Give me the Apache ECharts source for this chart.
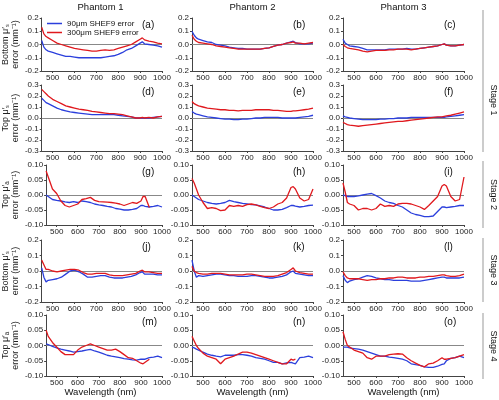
<!DOCTYPE html>
<html><head><meta charset="utf-8">
<script src="https://cdn.jsdelivr.net/npm/echarts@6/dist/echarts.min.js"></script>
<style>html,body{margin:0;padding:0;background:#fff}#c{width:499px;height:400px}</style>
</head><body><div id="c"></div>
<script>
// ---- data ----
const wavelength = [450,460,470,480,500,520,540,560,580,600,620,640,660,680,700,720,740,760,780,800,820,840,860,880,900,910,920,940,960,980,1000];
const xTicks = [500,600,700,800,900,1000];
const phantoms = ['Phantom 1','Phantom 2','Phantom 3'];
const stages = ['Stage 1','Stage 2','Stage 3','Stage 4'];
const panelLetters = ['(a)','(b)','(c)','(d)','(e)','(f)','(g)','(h)','(i)','(j)','(k)','(l)','(m)','(n)','(o)'];
const legendNames = ['90μm SHEF9 error','300μm SHEF9 error'];
const rowYLabels = ['Bottom μ′ₛ\nerror (mm⁻¹)','Top μ′ₛ\nerror (mm⁻¹)','Top μ′ₐ\nerror (mm⁻¹)','Bottom μ′ₛ\nerror (mm⁻¹)','Top μ′ₐ\nerror (mm⁻¹)'];
const rowYMin = [-0.2,-0.3,-0.1,-0.2,-0.1];
const rowYMax = [0.2,0.3,0.1,0.2,0.1];
const rowYStep = [0.1,0.1,0.05,0.1,0.05];
const rowYDec = [1,1,2,1,2];

// (a)
const blueA = [0.03,-0.02,-0.04,-0.05,-0.06,-0.07,-0.08,-0.09,-0.09,-0.095,-0.1,-0.1,-0.1,-0.1,-0.1,-0.1,-0.095,-0.09,-0.085,-0.075,-0.06,-0.04,-0.03,-0.01,0.01,0.02,0.005,0.0,-0.005,-0.01,-0.02];
const redA  = [0.13,0.08,0.06,0.05,0.03,0.01,0.0,-0.01,-0.02,-0.03,-0.035,-0.04,-0.045,-0.05,-0.05,-0.045,-0.04,-0.045,-0.04,-0.03,-0.02,-0.01,0.0,0.02,0.04,0.05,0.035,0.025,0.02,0.01,0.005];
// (b)
const blueB = [0.1,0.07,0.05,0.04,0.03,0.02,0.015,0.0,-0.005,-0.01,-0.02,-0.025,-0.03,-0.03,-0.035,-0.035,-0.035,-0.035,-0.03,-0.025,-0.015,-0.005,0.0,0.01,0.02,0.025,0.015,0.005,0.005,0.005,0.01];
const redB  = [0.07,0.04,0.025,0.015,0.01,0.005,0.0,-0.01,-0.015,-0.02,-0.025,-0.03,-0.035,-0.035,-0.035,-0.035,-0.035,-0.035,-0.03,-0.025,-0.015,-0.005,0.0,0.01,0.015,0.02,0.01,0.01,0.005,0.01,0.015];
// (c)
const blueC = [0.04,0.01,0.0,-0.01,-0.015,-0.02,-0.03,-0.04,-0.04,-0.04,-0.04,-0.04,-0.035,-0.035,-0.035,-0.035,-0.03,-0.035,-0.035,-0.03,-0.025,-0.02,-0.015,-0.01,0.0,0.005,-0.005,-0.01,-0.01,-0.005,0.0];
const redC  = [0.0,-0.015,-0.025,-0.03,-0.035,-0.04,-0.05,-0.055,-0.05,-0.045,-0.045,-0.045,-0.04,-0.04,-0.035,-0.035,-0.035,-0.04,-0.035,-0.03,-0.025,-0.02,-0.015,-0.01,0.0,0.005,-0.005,-0.01,-0.01,-0.005,0.0];
// (d)
const blueD = [0.18,0.16,0.14,0.13,0.11,0.09,0.075,0.065,0.055,0.05,0.045,0.04,0.035,0.03,0.03,0.03,0.03,0.03,0.03,0.025,0.02,0.015,0.01,0.0,0.0,0.0,0.0,0.0,0.005,0.01,0.015];
const redD  = [0.26,0.24,0.22,0.2,0.17,0.15,0.13,0.11,0.1,0.09,0.08,0.075,0.07,0.06,0.055,0.05,0.045,0.04,0.04,0.035,0.03,0.02,0.01,0.0,0.0,0.005,0.0,0.005,0.0,0.01,0.015];
// (e)
const blueE = [0.06,0.045,0.035,0.03,0.02,0.01,0.005,0.0,-0.005,-0.01,-0.01,-0.015,-0.015,-0.01,-0.01,-0.005,0.0,0.0,0.005,0.005,0.005,0.005,0.0,0.0,0.0,0.0,0.0,0.005,0.01,0.015,0.025];
const redE  = [0.15,0.13,0.12,0.11,0.1,0.09,0.085,0.08,0.075,0.075,0.07,0.07,0.065,0.07,0.07,0.07,0.075,0.075,0.075,0.075,0.07,0.07,0.065,0.06,0.06,0.065,0.065,0.07,0.075,0.08,0.09];
// (f)
const blueF = [0.02,0.01,0.005,0.0,-0.005,-0.01,-0.015,-0.015,-0.015,-0.015,-0.01,-0.01,-0.005,-0.005,0.0,0.0,0.0,0.005,0.005,0.005,0.005,0.005,0.005,0.005,0.005,0.005,0.01,0.015,0.02,0.025,0.03];
const redF  = [-0.04,-0.05,-0.06,-0.065,-0.07,-0.075,-0.07,-0.065,-0.06,-0.055,-0.05,-0.045,-0.04,-0.035,-0.03,-0.03,-0.025,-0.02,-0.015,-0.01,-0.005,0.0,0.005,0.01,0.01,0.015,0.02,0.025,0.035,0.045,0.055];
// (g)
const blueG = [0.0,-0.005,-0.01,-0.015,-0.018,-0.02,-0.023,-0.025,-0.022,-0.025,-0.02,-0.022,-0.025,-0.03,-0.033,-0.035,-0.038,-0.04,-0.045,-0.047,-0.05,-0.05,-0.048,-0.045,-0.035,-0.035,-0.038,-0.04,-0.038,-0.035,-0.04];
const redG  = [0.08,0.06,0.04,0.02,0.005,-0.02,-0.035,-0.04,-0.035,-0.03,-0.015,-0.012,-0.008,-0.018,-0.022,-0.023,-0.024,-0.025,-0.027,-0.03,-0.035,-0.03,-0.025,-0.028,-0.02,-0.005,-0.005,-0.042,null,null,null];
// (h)
const blueH = [0.0,-0.005,-0.01,-0.015,-0.02,-0.025,-0.028,-0.03,-0.028,-0.025,-0.018,-0.022,-0.025,-0.028,-0.03,-0.032,-0.033,-0.036,-0.04,-0.045,-0.05,-0.05,-0.048,-0.042,-0.035,-0.035,-0.037,-0.04,-0.038,-0.035,-0.034];
const redH  = [0.055,0.04,0.02,0.0,-0.025,-0.045,-0.042,-0.045,-0.052,-0.05,-0.035,-0.038,-0.035,-0.038,-0.032,-0.03,-0.033,-0.038,-0.042,-0.045,-0.04,-0.03,-0.025,-0.01,0.025,0.028,0.02,-0.01,-0.02,-0.015,0.02];
// (i)
const blueI = [0.0,-0.002,-0.005,-0.005,-0.005,-0.003,0.0,0.003,0.005,-0.002,-0.01,-0.02,-0.025,-0.028,-0.035,-0.04,-0.05,-0.06,-0.065,-0.068,-0.072,-0.072,-0.07,-0.055,-0.04,-0.04,-0.042,-0.04,-0.038,-0.035,-0.035];
const redI  = [0.04,0.01,-0.025,-0.03,-0.035,-0.05,-0.045,-0.045,-0.05,-0.045,-0.03,-0.038,-0.035,-0.038,-0.03,-0.028,-0.028,-0.03,-0.035,-0.04,-0.048,-0.035,-0.02,-0.005,0.03,0.035,0.03,-0.005,-0.02,-0.015,0.06];
// (j)
const blueJ = [0.02,-0.04,-0.07,-0.06,-0.055,-0.05,-0.04,-0.02,0.0,0.005,-0.005,-0.02,-0.04,-0.04,-0.035,-0.03,-0.03,-0.04,-0.045,-0.045,-0.045,-0.04,-0.035,-0.025,-0.01,-0.005,-0.02,-0.02,-0.02,-0.025,-0.025];
const redJ  = [0.07,0.04,0.01,0.01,0.0,-0.005,0.0,0.005,0.01,0.01,0.005,-0.01,-0.02,-0.02,-0.015,-0.015,-0.015,-0.025,-0.03,-0.03,-0.03,-0.025,-0.02,-0.015,0.0,0.005,-0.005,-0.005,-0.01,-0.015,-0.015];
// (k)
const blueK = [0.07,0.0,-0.04,-0.03,-0.035,-0.03,-0.025,-0.02,-0.02,-0.025,-0.03,-0.03,-0.035,-0.035,-0.035,-0.03,-0.03,-0.035,-0.04,-0.045,-0.045,-0.04,-0.035,-0.025,-0.005,0.0,-0.015,-0.02,-0.025,-0.03,-0.03];
const redK  = [0.03,0.0,-0.01,-0.015,-0.02,-0.02,-0.015,-0.015,-0.015,-0.02,-0.025,-0.025,-0.025,-0.025,-0.02,-0.02,-0.025,-0.03,-0.035,-0.035,-0.035,-0.03,-0.02,-0.01,0.01,0.02,0.0,-0.01,-0.015,-0.02,-0.02];
// (l)
const blueL = [-0.03,-0.06,-0.075,-0.065,-0.055,-0.05,-0.04,-0.03,-0.035,-0.045,-0.05,-0.055,-0.055,-0.06,-0.06,-0.06,-0.06,-0.065,-0.065,-0.065,-0.06,-0.055,-0.05,-0.045,-0.04,-0.04,-0.045,-0.045,-0.045,-0.045,-0.04];
const redL  = [-0.005,-0.03,-0.045,-0.05,-0.05,-0.05,-0.055,-0.06,-0.055,-0.055,-0.05,-0.05,-0.045,-0.045,-0.04,-0.04,-0.045,-0.045,-0.045,-0.04,-0.04,-0.035,-0.035,-0.03,-0.025,-0.025,-0.03,-0.035,-0.035,-0.03,-0.02];
// (m)
const blueM = [0.005,0.003,0.0,-0.003,-0.008,-0.012,-0.015,-0.018,-0.022,-0.02,-0.018,-0.015,-0.013,-0.018,-0.022,-0.027,-0.032,-0.035,-0.037,-0.04,-0.043,-0.045,-0.047,-0.048,-0.045,-0.045,-0.045,-0.04,-0.038,-0.035,-0.04];
const redM  = [0.05,0.03,0.02,0.01,-0.005,-0.02,-0.03,-0.03,-0.03,-0.015,-0.005,0.0,0.005,0.0,-0.005,-0.01,-0.015,-0.015,-0.012,-0.02,-0.03,-0.04,-0.042,-0.05,-0.058,-0.06,-0.055,-0.045,null,null,null];
// (n)
const blueN = [-0.005,-0.008,-0.012,-0.015,-0.022,-0.028,-0.032,-0.035,-0.037,-0.032,-0.032,-0.032,-0.03,-0.03,-0.032,-0.035,-0.04,-0.042,-0.045,-0.05,-0.055,-0.055,-0.06,-0.057,-0.055,-0.058,-0.06,-0.04,-0.038,-0.035,-0.04];
const redN  = [0.03,0.015,0.0,-0.01,-0.025,-0.035,-0.04,-0.045,-0.06,-0.045,-0.04,-0.035,-0.028,-0.022,-0.022,-0.025,-0.03,-0.035,-0.04,-0.045,-0.05,-0.055,-0.06,-0.06,-0.045,-0.048,-0.045,null,null,null,null];
// (o)
const blueO = [-0.005,-0.005,-0.005,-0.008,-0.01,-0.012,-0.015,-0.02,-0.025,-0.03,-0.035,-0.035,-0.038,-0.04,-0.042,-0.045,-0.05,-0.06,-0.063,-0.065,-0.07,-0.072,-0.072,-0.068,-0.062,-0.06,-0.05,-0.042,-0.04,-0.035,-0.04];
const redO  = [0.045,0.02,0.0,-0.005,-0.015,-0.02,-0.025,-0.04,-0.045,-0.035,-0.035,-0.035,-0.03,-0.028,-0.027,-0.028,-0.04,-0.05,-0.058,-0.065,-0.07,-0.06,-0.058,-0.05,-0.04,-0.045,-0.045,-0.042,-0.04,-0.035,-0.03];

const blueSets = [blueA,blueB,blueC,blueD,blueE,blueF,blueG,blueH,blueI,blueJ,blueK,blueL,blueM,blueN,blueO];
const redSets  = [redA,redB,redC,redD,redE,redF,redG,redH,redI,redJ,redK,redL,redM,redN,redO];

// ---- layout ----
const FONT = 'Liberation Sans, Arial, sans-serif';
const cols = [{left:39,width:123},{left:192,width:121},{left:343,width:121}];
const rows = [{top:18,height:53},{top:85,height:66},{top:165,height:60},{top:240,height:62},{top:315,height:61}];
const BLUE = '#2b3fdc', RED = '#e0191e';

const grid=[], xAxis=[], yAxis=[], series=[], graphic=[];
for (let r=0;r<5;r++) for (let c=0;c<3;c++) {
  const i = r*3+c;
  grid.push({left:cols[c].left, top:rows[r].top, width:cols[c].width, height:rows[r].height, containLabel:false});
  xAxis.push({type:'value', gridIndex:i, min:450, max:1000, position:'bottom',
    axisLine:{show:true,onZero:false,lineStyle:{color:'#444',width:1}},
    axisTick:{show:true,length:2,customValues:xTicks,lineStyle:{color:'#444'}},
    axisLabel:{customValues:xTicks,fontSize:8,fontFamily:FONT,color:'#222',margin:3,formatter:v=>String(v)},
    splitLine:{show:false}});
  const dec = rowYDec[r];
  yAxis.push({type:'value', gridIndex:i, min:rowYMin[r], max:rowYMax[r], interval:rowYStep[r],
    axisLine:{show:true,lineStyle:{color:'#444',width:1}},
    axisTick:{show:true,length:2,lineStyle:{color:'#444'}},
    axisLabel:{fontSize:8,fontFamily:FONT,color:'#222',margin:3,formatter:v=>Math.abs(v)<1e-9?(0).toFixed(dec):v.toFixed(dec)},
    splitLine:{show:false},
    name: c===0 ? rowYLabels[r] : '', nameLocation:'middle', nameRotate:90, nameGap:19,
    nameTextStyle:{fontSize:9,fontFamily:FONT,color:'#222',lineHeight:10}});
  const mk = arr => wavelength.map((w,k)=>[w,arr[k]]);
  series.push({type:'line', name:legendNames[0], xAxisIndex:i, yAxisIndex:i, data:mk(blueSets[i]),
    showSymbol:false, symbol:'none', lineStyle:{color:BLUE,width:1.3}, itemStyle:{color:BLUE}, silent:true, z:3,
    markLine:{silent:true,symbol:'none',label:{show:false},lineStyle:{color:'#888',width:1,type:'solid'},data:[{yAxis:0}],z:1}});
  series.push({type:'line', name:legendNames[1], xAxisIndex:i, yAxisIndex:i, data:mk(redSets[i]),
    showSymbol:false, symbol:'none', lineStyle:{color:RED,width:1.3}, itemStyle:{color:RED}, silent:true, z:4});
  graphic.push({type:'text', left:cols[c].left+cols[c].width-20, top:rows[r].top+2,
    style:{text:panelLetters[i], fontSize:10, fontFamily:FONT, fill:'#111'}});
}
phantoms.forEach((p,c)=>{
  graphic.push({type:'text', x:cols[c].left+cols[c].width/2, y:7, style:{text:p, fontSize:9.5, fontFamily:FONT, fill:'#111', align:'center', verticalAlign:'middle'}});
  graphic.push({type:'text', x:cols[c].left+cols[c].width/2, y:392, style:{text:'Wavelength (nm)', fontSize:9.5, fontFamily:FONT, fill:'#111', align:'center', verticalAlign:'middle'}});
});
const stageSpans = [[10,152],[161,228],[238,302],[313,379]];
stages.forEach((s,k)=>{
  const [y0,y1] = stageSpans[k];
  graphic.push({type:'line', shape:{x1:483,y1:y0,x2:483,y2:y1}, style:{stroke:'#999',lineWidth:1}});
  graphic.push({type:'text', x:493, y:k===0?100:(y0+y1)/2, rotation:-Math.PI/2,
    style:{text:s, fontSize:9, fontFamily:FONT, fill:'#111', align:'center', verticalAlign:'middle'}});
});

const chart = echarts.init(document.getElementById('c'), null, {renderer:'canvas'});
chart.setOption({
  animation:false, backgroundColor:'#fff',
  grid, xAxis, yAxis, series, graphic,
  legend:{data:legendNames.map((n,k)=>({name:n, icon:'rect', itemStyle:{color:k?RED:BLUE}})),
    orient:'vertical', left:42, top:14, itemGap:0, itemWidth:15, itemHeight:1.5,
    textStyle:{fontSize:8, fontFamily:FONT, color:'#111', lineHeight:9}, selectedMode:false}
});
</script></body></html>
